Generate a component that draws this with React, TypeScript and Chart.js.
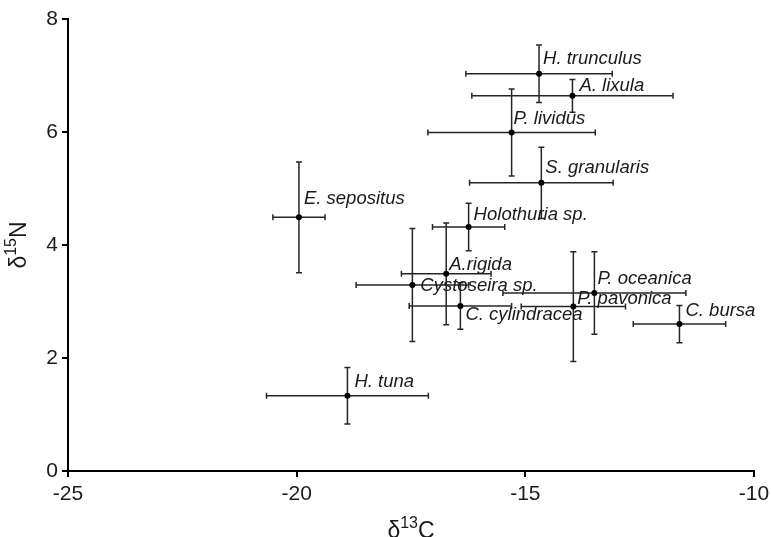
import { useEffect, useRef } from "react";
import { Chart, registerables } from "chart.js";

Chart.register(...registerables);

// Stable-isotope means (‰) and standard deviations per taxon
const species = [
  "H. trunculus",
  "A. lixula",
  "P. lividus",
  "S. granularis",
  "E. sepositus",
  "Holothuria sp.",
  "A.rigida",
  "Cystoseira sp.",
  "C. cylindracea",
  "P. oceanica",
  "P. pavonica",
  "C. bursa",
  "H. tuna",
];
const carbon = [-14.7, -13.97, -15.3, -14.65, -19.95, -16.24, -16.73, -17.47, -16.42, -13.49, -13.95, -11.63, -18.89];
const nitrogen = [7.03, 6.64, 5.99, 5.1, 4.49, 4.32, 3.49, 3.29, 2.92, 3.15, 2.91, 2.6, 1.33];
const carbonSd = [1.6, 2.2, 1.83, 1.57, 0.57, 0.79, 0.98, 1.23, 1.12, 2.0, 1.14, 1.01, 1.77];
const nitrogenSd = [0.51, 0.29, 0.77, 0.63, 0.98, 0.42, 0.9, 1.0, 0.41, 0.73, 0.97, 0.33, 0.5];

const xTicks = [-25, -20, -15, -10];
const yTicks = [0, 2, 4, 6, 8];

const FONT = "'Liberation Sans', Arial, Helvetica, sans-serif";
const INK = "#1a1a1a";

// label nudges relative to the point, in px: [dx, dy of text middle]
const labelNudge: [number, number][] = [
  [4, -15], [7, -10], [2, -14], [4, -15], [5, -18], [5, -12], [3, -9],
  [8, 1], [5, 9], [3, -14], [4, -8], [6, -13], [7, -14],
];

const errorBars = {
  id: "errorBars",
  beforeDatasetsDraw(chart: any) {
    const { ctx } = chart;
    const xs = chart.scales.x;
    const ys = chart.scales.y;
    const cap = 3;
    ctx.save();
    ctx.strokeStyle = "#262626";
    ctx.lineWidth = 1.5;
    for (let i = 0; i < species.length; i++) {
      const cx = xs.getPixelForValue(carbon[i]);
      const cy = ys.getPixelForValue(nitrogen[i]);
      const x0 = xs.getPixelForValue(carbon[i] - carbonSd[i]);
      const x1 = xs.getPixelForValue(carbon[i] + carbonSd[i]);
      const y0 = ys.getPixelForValue(nitrogen[i] - nitrogenSd[i]);
      const y1 = ys.getPixelForValue(nitrogen[i] + nitrogenSd[i]);
      ctx.beginPath();
      ctx.moveTo(x0, cy);
      ctx.lineTo(x1, cy);
      ctx.moveTo(x0, cy - cap);
      ctx.lineTo(x0, cy + cap);
      ctx.moveTo(x1, cy - cap);
      ctx.lineTo(x1, cy + cap);
      ctx.moveTo(cx, y0);
      ctx.lineTo(cx, y1);
      ctx.moveTo(cx - cap, y0);
      ctx.lineTo(cx + cap, y0);
      ctx.moveTo(cx - cap, y1);
      ctx.lineTo(cx + cap, y1);
      ctx.stroke();
    }
    ctx.restore();
  },
};

const pointLabels = {
  id: "pointLabels",
  afterDatasetsDraw(chart: any) {
    const { ctx } = chart;
    const meta = chart.getDatasetMeta(0);
    ctx.save();
    ctx.font = `italic 18.5px ${FONT}`;
    ctx.fillStyle = INK;
    ctx.textAlign = "left";
    ctx.textBaseline = "middle";
    meta.data.forEach((pt: any, i: number) => {
      const [dx, dy] = labelNudge[i];
      ctx.fillText(species[i], pt.x + dx, pt.y + dy);
    });
    ctx.restore();
  },
};

const TITLE_SIZE = 23;
const SUP_SIZE = 16;
const SUP_RISE = 10;

// draws a run of [text, isSuperscript] pieces starting at x
function drawRich(ctx: CanvasRenderingContext2D, parts: [string, boolean][], x: number, y: number) {
  let cx = x;
  for (const [t, sup] of parts) {
    ctx.font = `${sup ? SUP_SIZE : TITLE_SIZE}px ${FONT}`;
    ctx.fillText(t, cx, sup ? y - SUP_RISE : y);
    cx += ctx.measureText(t).width;
  }
}

function richWidth(ctx: CanvasRenderingContext2D, parts: [string, boolean][]) {
  let w = 0;
  for (const [t, sup] of parts) {
    ctx.font = `${sup ? SUP_SIZE : TITLE_SIZE}px ${FONT}`;
    w += ctx.measureText(t).width;
  }
  return w;
}

const axisTitles = {
  id: "axisTitles",
  afterDraw(chart: any) {
    const { ctx, chartArea } = chart;
    const xParts: [string, boolean][] = [["δ", false], ["13", true], ["C", false]];
    const yParts: [string, boolean][] = [["δ", false], ["15", true], ["N", false]];
    ctx.save();
    ctx.fillStyle = INK;
    ctx.textAlign = "left";
    ctx.textBaseline = "alphabetic";
    const cxMid = (chartArea.left + chartArea.right) / 2;
    drawRich(ctx, xParts, cxMid - richWidth(ctx, xParts) / 2, 538);
    const cyMid = (chartArea.top + chartArea.bottom) / 2;
    ctx.translate(26, cyMid);
    ctx.rotate(-Math.PI / 2);
    drawRich(ctx, yParts, -richWidth(ctx, yParts) / 2, 0);
    ctx.restore();
  },
};

export default function App() {
  const canvasRef = useRef<HTMLCanvasElement | null>(null);

  useEffect(() => {
    if (!canvasRef.current) return;
    const chart = new Chart(canvasRef.current, {
      type: "scatter",
      data: {
        datasets: [
          {
            data: carbon.map((c, i) => ({ x: c, y: nitrogen[i] })),
            pointRadius: 3,
            pointBackgroundColor: "#000",
            pointBorderWidth: 0,
          },
        ],
      },
      options: {
        animation: false,
        responsive: true,
        maintainAspectRatio: false,
        layout: { padding: { top: 19, right: 17, left: 0, bottom: 0 } },
        plugins: {
          legend: { display: false },
          tooltip: { enabled: false },
        },
        scales: {
          x: {
            type: "linear",
            min: -25,
            max: -10,
            afterBuildTicks: (s: any) => {
              s.ticks = xTicks.map((v) => ({ value: v }));
            },
            afterFit: (s: any) => {
              s.height = 66;
            },
            ticks: {
              font: { family: FONT, size: 21, lineHeight: 1.58 },
              color: INK,
              padding: 1,
              maxRotation: 0,
              callback: (v: any) => String(v),
            },
            grid: {
              drawOnChartArea: false,
              drawTicks: true,
              tickLength: 6,
              color: "#000",
              lineWidth: 2,
            },
            border: { display: true, color: "#000", width: 2 },
          },
          y: {
            type: "linear",
            min: 0,
            max: 8,
            afterBuildTicks: (s: any) => {
              s.ticks = yTicks.map((v) => ({ value: v }));
            },
            afterFit: (s: any) => {
              s.width = 68;
            },
            ticks: {
              font: { family: FONT, size: 21 },
              color: INK,
              padding: 4,
              callback: (v: any) => String(v),
            },
            grid: {
              drawOnChartArea: false,
              drawTicks: true,
              tickLength: 6,
              color: "#000",
              lineWidth: 2,
            },
            border: { display: true, color: "#000", width: 2 },
          },
        },
      },
      plugins: [errorBars, pointLabels, axisTitles],
    });
    return () => chart.destroy();
  }, []);

  return (
    <div style={{ position: "fixed", left: 0, top: 0, width: 771, height: 537, background: "#fff" }}>
      <canvas ref={canvasRef} />
    </div>
  );
}
